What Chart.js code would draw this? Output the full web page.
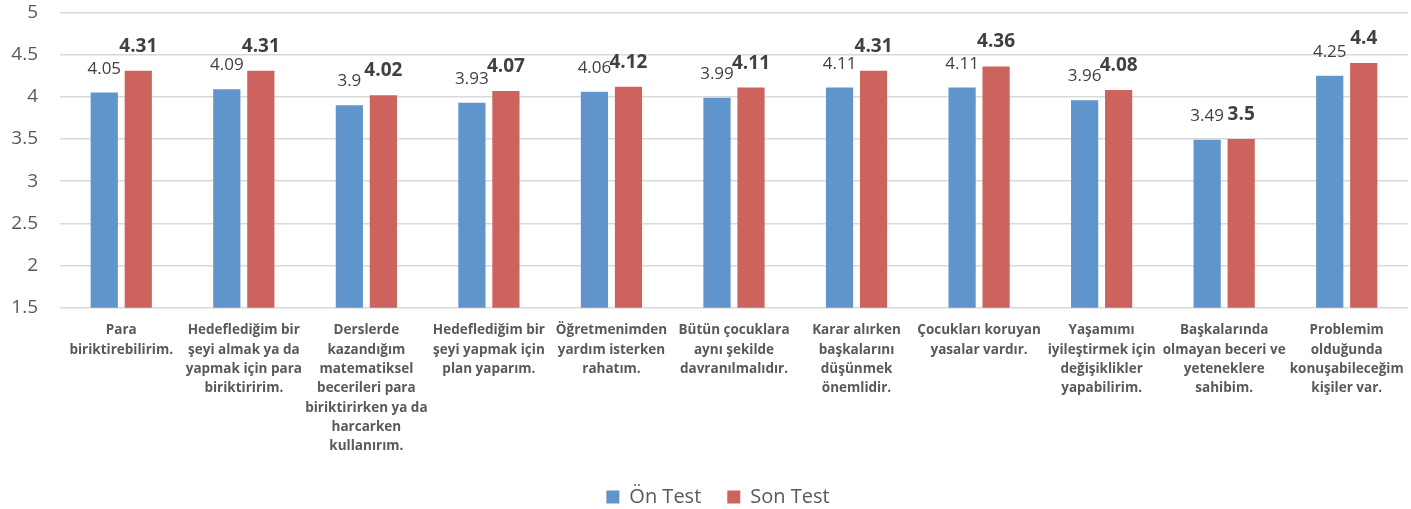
<!DOCTYPE html>
<html>
<head>
<meta charset="utf-8">
<script src="https://cdn.jsdelivr.net/npm/chart.js@4"></script>
<style>
  html, body { margin: 0; padding: 0; background: #fff; }
  #wrap { width: 1411px; height: 509px; overflow: hidden; }
  #inner { width: 1411px; height: 538px; margin-top: -21px; }
</style>
</head>
<body>
<div id="wrap"><div id="inner"><canvas id="chart"></canvas></div></div>
<script>
// categories (multi-line, as in the picture)
const categories = [
  ["Para", "biriktirebilirim."],
  ["Hedeflediğim bir", "şeyi almak ya da", "yapmak için para", "biriktiririm."],
  ["Derslerde", "kazandığım", "matematiksel", "becerileri para", "biriktirirken ya da", "harcarken", "kullanırım."],
  ["Hedeflediğim bir", "şeyi yapmak için", "plan yaparım."],
  ["Öğretmenimden", "yardım isterken", "rahatım."],
  ["Bütün çocuklara", "aynı şekilde", "davranılmalıdır."],
  ["Karar alırken", "başkalarını", "düşünmek", "önemlidir."],
  ["Çocukları koruyan", "yasalar vardır."],
  ["Yaşamımı", "iyileştirmek için", "değişiklikler", "yapabilirim."],
  ["Başkalarında", "olmayan beceri ve", "yeteneklere", "sahibim."],
  ["Problemim", "olduğunda", "konuşabileceğim", "kişiler var."]
];
const onTest = [4.05, 4.09, 3.9, 3.93, 4.06, 3.99, 4.11, 4.11, 3.96, 3.49, 4.25];
const sonTest = [4.31, 4.31, 4.02, 4.07, 4.12, 4.11, 4.31, 4.36, 4.08, 3.5, 4.4];
const yMin = 1.5, yMax = 5, yStep = 0.5;

const FONT = "'Open Sans', Lato, sans-serif";

// draws the value above each bar
const valueLabels = {
  id: "valueLabels",
  afterDatasetsDraw(chart) {
    const ctx = chart.ctx;
    chart.data.datasets.forEach((ds, i) => {
      const meta = chart.getDatasetMeta(i);
      ctx.save();
      ctx.fillStyle = "#404040";
      ctx.textAlign = "center";
      ctx.textBaseline = "alphabetic";
      ctx.font = i === 0 ? `17px ${FONT}` : `bold 19px ${FONT}`;
      meta.data.forEach((bar, j) => {
        ctx.fillText(String(ds.data[j]), bar.x, bar.y - 19);
      });
      ctx.restore();
    });
  }
};

// legend sits a little right of the middle in the original
const nudgeLegend = {
  id: "nudgeLegend",
  afterLayout(chart) {
    if (chart.legend) chart.legend.left += 28;
  }
};

new Chart(document.getElementById("chart"), {
  type: "bar",
  data: {
    labels: categories,
    datasets: [
      { label: "Ön Test", data: onTest, backgroundColor: "#5f95ca",
        categoryPercentage: 0.555, barPercentage: 0.8 },
      { label: "Son Test", data: sonTest, backgroundColor: "#cd635d",
        categoryPercentage: 0.555, barPercentage: 0.8 }
    ]
  },
  options: {
    responsive: true,
    maintainAspectRatio: false,
    animation: false,
    layout: { padding: { top: 0, right: 3, left: 0, bottom: 0 } },
    plugins: {
      legend: {
        position: "bottom",
        labels: {
          boxWidth: 13, boxHeight: 13, padding: 26,
          color: "#595959", font: { family: FONT, size: 20 }
        }
      },
      tooltip: { enabled: false }
    },
    scales: {
      x: {
        grid: { display: false },
        border: { display: false },
        ticks: {
          padding: 5, color: "#595959", maxRotation: 0, autoSkip: false,
          font: { family: FONT, size: 13.5, weight: "bold", lineHeight: 1.43 }
        }
      },
      y: {
        min: yMin, max: yMax,
        afterFit(scale) { scale.width = 60; },
        grid: { color: "#d9d9d9", lineWidth: 1.5, drawTicks: false },
        border: { display: false },
        ticks: {
          stepSize: yStep, padding: 22, color: "#595959",
          font: { family: FONT, size: 19 },
          callback: (v) => String(v)
        }
      }
    }
  },
  plugins: [valueLabels, nudgeLegend]
});
</script>
</body>
</html>
